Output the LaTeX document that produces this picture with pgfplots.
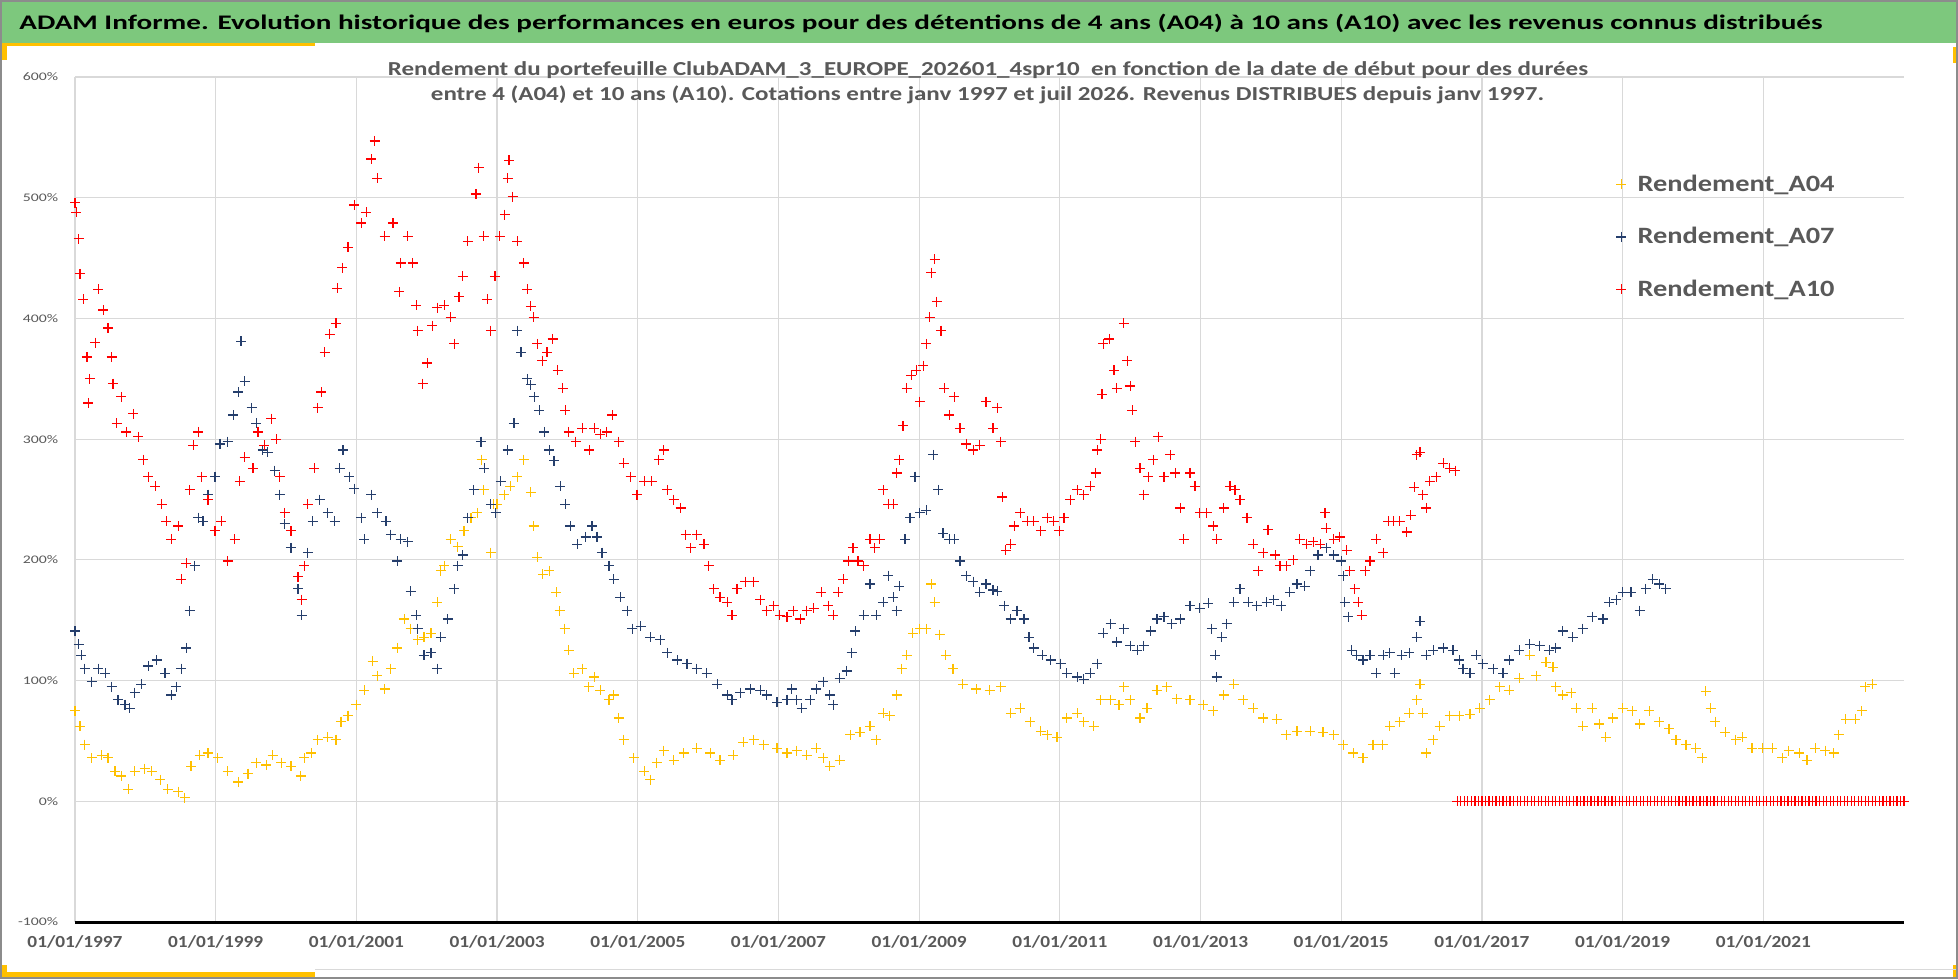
\documentclass[border=0pt]{standalone}
\usepackage{pgfplots}
\pgfplotsset{compat=1.18}
\usepackage{pgfplotstable}
\usepackage{fontspec}
\setmainfont{Carlito}
\definecolor{ygold}{RGB}{255,192,0}
\definecolor{navy}{RGB}{37,62,108}
\definecolor{hgreen}{RGB}{125,200,125}
\definecolor{txtgray}{RGB}{89,89,89}
\definecolor{gridgray}{RGB}{217,217,217}
\definecolor{bordgray}{RGB}{140,140,140}
\newcommand{\xlab}[1]{\resizebox{47.5pt}{\height}{#1}}
\newcommand{\ylab}[1]{\scalebox{1.36}[1]{#1}}
\newcommand{\leglab}[1]{\resizebox{98.5pt}{\height}{#1}}

\pgfplotstableread{
x y
1997.00 75
1997.07 62
1997.14 47
1997.24 36
1997.38 38
1997.47 36
1997.57 25
1997.66 21
1997.76 10
1997.85 25
1997.99 27
1998.09 25
1998.21 18
1998.32 10
1998.47 8
1998.56 3
1998.65 29
1998.77 38
1998.89 40
1999.03 36
1999.17 25
1999.32 16
1999.46 23
1999.58 32
1999.72 30
1999.81 38
1999.93 32
2000.07 29
2000.21 21
2000.26 36
2000.36 40
2000.45 51
2000.59 53
2000.71 51
2000.78 66
2000.88 71
2001.00 80
2001.11 92
2001.23 116
2001.30 104
2001.40 93
2001.49 110
2001.58 127
2001.68 151
2001.77 143
2001.87 134
2001.96 136
2002.06 139
2002.15 165
2002.20 191
2002.25 195
2002.34 217
2002.44 211
2002.53 224
2002.63 235
2002.72 239
2002.78 283
2002.81 258
2002.91 206
2002.95 246
2003.00 246
2003.10 254
2003.19 261
2003.29 269
2003.38 283
2003.48 256
2003.52 228
2003.57 202
2003.65 188
2003.74 191
2003.84 173
2003.89 158
2003.96 143
2004.02 125
2004.09 106
2004.21 110
2004.30 95
2004.38 103
2004.47 92
2004.59 84
2004.66 88
2004.73 69
2004.80 51
2004.94 36
2005.09 25
2005.18 18
2005.27 32
2005.37 42
2005.51 34
2005.65 40
2005.84 44
2006.03 40
2006.17 34
2006.36 38
2006.50 49
2006.65 51
2006.79 47
2006.98 44
2007.12 40
2007.26 42
2007.40 38
2007.54 44
2007.64 36
2007.73 29
2007.87 34
2008.02 55
2008.16 57
2008.30 62
2008.39 51
2008.49 73
2008.58 71
2008.68 88
2008.75 110
2008.82 121
2008.91 139
2009.01 143
2009.10 143
2009.17 180
2009.22 165
2009.29 138
2009.38 121
2009.48 110
2009.62 97
2009.81 93
2010.00 92
2010.16 95
2010.30 73
2010.44 77
2010.58 66
2010.73 58
2010.82 55
2010.96 53
2011.10 69
2011.25 73
2011.34 66
2011.48 62
2011.58 84
2011.72 84
2011.84 80
2011.91 95
2012.00 84
2012.14 69
2012.24 77
2012.38 92
2012.52 95
2012.66 85
2012.85 84
2013.04 80
2013.18 75
2013.33 88
2013.47 97
2013.61 84
2013.75 77
2013.89 69
2014.08 68
2014.22 55
2014.37 58
2014.56 58
2014.74 57
2014.89 55
2015.03 47
2015.17 40
2015.31 36
2015.45 47
2015.59 47
2015.69 62
2015.83 66
2015.97 73
2016.07 84
2016.12 97
2016.16 73
2016.21 40
2016.31 51
2016.40 62
2016.54 71
2016.68 71
2016.83 72
2016.97 77
2017.11 84
2017.25 95
2017.39 92
2017.53 102
2017.68 121
2017.77 104
2017.91 115
2018.01 111
2018.05 95
2018.15 88
2018.27 90
2018.34 77
2018.43 62
2018.57 77
2018.67 64
2018.76 53
2018.86 69
2019.00 77
2019.14 75
2019.24 64
2019.38 75
2019.52 66
2019.66 60
2019.76 51
2019.90 47
2020.04 44
2020.13 36
2020.18 91
2020.25 77
2020.32 66
2020.46 57
2020.61 51
2020.70 53
2020.84 44
2020.99 44
2021.13 44
2021.27 36
2021.36 42
2021.51 40
2021.62 34
2021.74 44
2021.88 42
2022.00 40
2022.07 55
2022.17 68
2022.31 68
2022.40 75
2022.45 95
2022.55 97
}\tblA

\pgfplotstableread{
x y
1997.00 141
1997.05 130
1997.09 121
1997.14 110
1997.24 99
1997.33 110
1997.43 106
1997.52 95
1997.61 84
1997.71 80
1997.78 77
1997.85 90
1997.94 97
1998.04 112
1998.16 117
1998.28 106
1998.37 88
1998.44 95
1998.51 110
1998.58 127
1998.63 158
1998.70 195
1998.75 235
1998.82 232
1998.89 254
1998.99 269
1999.06 296
1999.17 298
1999.25 320
1999.32 339
1999.36 381
1999.41 348
1999.51 326
1999.58 313
1999.67 291
1999.74 289
1999.84 274
1999.91 254
1999.98 230
2000.07 210
2000.17 176
2000.22 154
2000.31 206
2000.38 232
2000.48 250
2000.59 239
2000.69 232
2000.76 276
2000.81 291
2000.90 269
2000.97 259
2001.07 235
2001.11 217
2001.21 254
2001.30 239
2001.42 232
2001.49 221
2001.58 199
2001.63 217
2001.73 215
2001.77 174
2001.85 154
2001.87 143
2001.96 121
2002.06 123
2002.15 110
2002.20 136
2002.30 151
2002.39 176
2002.44 195
2002.51 204
2002.58 235
2002.67 258
2002.77 298
2002.82 276
2002.91 246
2002.98 239
2003.05 265
2003.15 291
2003.24 313
2003.29 390
2003.34 372
2003.43 350
2003.48 345
2003.53 335
2003.60 324
2003.67 306
2003.74 291
2003.81 282
2003.90 261
2003.97 246
2004.04 228
2004.14 213
2004.26 219
2004.35 228
2004.42 219
2004.49 206
2004.59 195
2004.66 184
2004.75 169
2004.85 158
2004.92 143
2005.04 145
2005.18 136
2005.32 134
2005.42 123
2005.56 117
2005.70 114
2005.84 110
2005.98 106
2006.13 97
2006.27 88
2006.34 84
2006.46 90
2006.60 93
2006.74 92
2006.83 88
2006.98 82
2007.12 84
2007.19 93
2007.26 84
2007.33 77
2007.45 84
2007.54 93
2007.64 99
2007.73 88
2007.78 80
2007.87 102
2007.97 108
2008.04 123
2008.09 141
2008.21 154
2008.30 180
2008.39 154
2008.49 165
2008.56 187
2008.63 169
2008.68 158
2008.72 178
2008.80 217
2008.87 235
2008.94 269
2009.01 239
2009.10 241
2009.20 287
2009.27 258
2009.34 222
2009.43 217
2009.50 217
2009.58 199
2009.67 187
2009.77 182
2009.86 173
2009.95 180
2010.05 175
2010.11 174
2010.21 162
2010.30 151
2010.39 158
2010.49 151
2010.56 136
2010.63 127
2010.75 121
2010.87 117
2011.01 114
2011.10 106
2011.25 103
2011.34 101
2011.43 106
2011.53 114
2011.62 139
2011.72 147
2011.81 132
2011.91 143
2012.00 129
2012.10 125
2012.19 129
2012.29 141
2012.38 151
2012.48 153
2012.59 147
2012.71 151
2012.85 162
2012.99 160
2013.11 164
2013.16 143
2013.21 121
2013.23 103
2013.30 136
2013.37 147
2013.47 165
2013.56 176
2013.68 165
2013.80 162
2013.94 165
2014.04 167
2014.15 162
2014.27 173
2014.37 180
2014.48 178
2014.56 191
2014.67 204
2014.79 210
2014.89 204
2015.00 199
2015.03 187
2015.05 165
2015.10 153
2015.15 125
2015.22 121
2015.31 117
2015.41 121
2015.50 106
2015.60 121
2015.69 123
2015.76 106
2015.86 121
2015.97 123
2016.07 136
2016.12 149
2016.21 121
2016.31 125
2016.45 127
2016.59 125
2016.68 117
2016.73 110
2016.83 106
2016.92 121
2017.01 114
2017.16 110
2017.30 106
2017.39 117
2017.53 125
2017.68 130
2017.82 129
2017.96 125
2018.05 127
2018.15 141
2018.29 136
2018.43 143
2018.57 153
2018.72 151
2018.81 165
2018.91 167
2019.00 173
2019.12 173
2019.24 158
2019.33 176
2019.43 184
2019.52 180
2019.61 176
}\tblB

\pgfplotstableread{
x y
1997.00 496
1997.02 488
1997.05 466
1997.07 437
1997.12 416
1997.17 368
1997.19 330
1997.21 350
1997.29 380
1997.33 424
1997.40 407
1997.47 392
1997.52 368
1997.54 346
1997.59 313
1997.66 335
1997.73 306
1997.83 321
1997.90 302
1997.97 283
1998.04 269
1998.14 261
1998.23 246
1998.30 232
1998.37 217
1998.47 228
1998.51 184
1998.58 197
1998.63 258
1998.68 295
1998.75 306
1998.80 269
1998.89 250
1998.99 224
1999.08 232
1999.17 199
1999.27 217
1999.34 265
1999.41 285
1999.53 276
1999.60 306
1999.69 295
1999.79 317
1999.86 300
1999.91 269
1999.98 239
2000.07 224
2000.17 186
2000.22 167
2000.26 195
2000.31 246
2000.40 276
2000.45 326
2000.50 339
2000.55 372
2000.62 387
2000.71 396
2000.73 425
2000.80 442
2000.88 459
2000.97 494
2001.07 479
2001.14 488
2001.21 532
2001.26 547
2001.30 516
2001.40 468
2001.52 479
2001.61 422
2001.63 446
2001.73 468
2001.80 446
2001.85 411
2001.87 390
2001.94 346
2002.01 363
2002.08 394
2002.15 409
2002.25 411
2002.34 401
2002.39 379
2002.46 418
2002.51 435
2002.58 464
2002.70 503
2002.74 525
2002.81 468
2002.86 416
2002.91 390
2002.97 435
2003.04 468
2003.11 486
2003.15 516
2003.17 531
2003.22 501
2003.29 464
2003.38 446
2003.43 424
2003.48 410
2003.52 401
2003.57 379
2003.64 365
2003.71 372
2003.79 383
2003.86 357
2003.93 342
2003.97 324
2004.02 306
2004.12 298
2004.21 309
2004.31 291
2004.38 309
2004.47 304
2004.56 306
2004.64 320
2004.73 298
2004.80 280
2004.90 269
2004.99 254
2005.09 265
2005.20 265
2005.30 283
2005.37 291
2005.42 258
2005.51 250
2005.61 243
2005.68 221
2005.75 210
2005.84 221
2005.94 213
2006.01 195
2006.08 176
2006.17 169
2006.27 165
2006.34 154
2006.41 176
2006.53 182
2006.65 182
2006.74 167
2006.83 158
2006.93 162
2007.02 154
2007.12 153
2007.21 158
2007.31 151
2007.40 158
2007.50 160
2007.61 173
2007.71 162
2007.78 154
2007.85 173
2007.92 184
2007.99 199
2008.06 210
2008.13 199
2008.21 195
2008.30 217
2008.37 210
2008.44 217
2008.49 258
2008.56 246
2008.63 246
2008.68 272
2008.72 283
2008.77 311
2008.82 342
2008.89 353
2008.96 357
2009.01 331
2009.06 361
2009.10 379
2009.15 401
2009.17 438
2009.22 449
2009.25 414
2009.31 390
2009.36 342
2009.43 320
2009.50 335
2009.58 309
2009.67 296
2009.77 291
2009.86 295
2009.95 331
2010.05 309
2010.11 326
2010.16 298
2010.18 252
2010.23 208
2010.30 213
2010.35 228
2010.44 239
2010.54 232
2010.63 232
2010.73 224
2010.82 235
2010.91 232
2010.99 224
2011.06 235
2011.15 250
2011.25 258
2011.34 254
2011.43 261
2011.51 272
2011.53 291
2011.58 300
2011.60 337
2011.62 379
2011.70 383
2011.77 357
2011.81 342
2011.91 396
2011.96 365
2012.00 344
2012.03 324
2012.07 298
2012.14 276
2012.19 254
2012.26 269
2012.33 283
2012.40 302
2012.48 269
2012.57 287
2012.64 272
2012.71 243
2012.76 217
2012.85 272
2012.92 261
2012.99 239
2013.09 239
2013.18 228
2013.23 217
2013.33 243
2013.42 261
2013.49 258
2013.56 250
2013.66 235
2013.75 213
2013.82 191
2013.89 206
2013.96 225
2014.06 204
2014.13 195
2014.22 195
2014.32 200
2014.41 217
2014.51 213
2014.60 215
2014.70 213
2014.77 239
2014.79 226
2014.89 217
2014.98 219
2015.08 208
2015.12 191
2015.19 176
2015.24 165
2015.29 154
2015.34 191
2015.41 199
2015.50 217
2015.60 206
2015.67 232
2015.74 232
2015.83 232
2015.93 223
2015.99 237
2016.04 260
2016.07 287
2016.12 289
2016.16 254
2016.21 243
2016.26 265
2016.35 269
2016.45 280
2016.54 276
2016.62 274
2016.65 0
2016.70 0
2016.75 0
2016.80 0
2016.85 0
2016.90 0
2016.95 0
2017.00 0
2017.05 0
2017.10 0
2017.15 0
2017.20 0
2017.25 0
2017.30 0
2017.35 0
2017.40 0
2017.45 0
2017.50 0
2017.55 0
2017.60 0
2017.65 0
2017.70 0
2017.75 0
2017.80 0
2017.85 0
2017.90 0
2017.95 0
2018.00 0
2018.05 0
2018.10 0
2018.15 0
2018.20 0
2018.25 0
2018.30 0
2018.35 0
2018.40 0
2018.45 0
2018.50 0
2018.55 0
2018.60 0
2018.65 0
2018.70 0
2018.75 0
2018.80 0
2018.85 0
2018.90 0
2018.95 0
2019.00 0
2019.05 0
2019.10 0
2019.15 0
2019.20 0
2019.25 0
2019.30 0
2019.35 0
2019.40 0
2019.45 0
2019.50 0
2019.55 0
2019.60 0
2019.65 0
2019.70 0
2019.75 0
2019.80 0
2019.85 0
2019.90 0
2019.95 0
2020.00 0
2020.05 0
2020.10 0
2020.15 0
2020.20 0
2020.25 0
2020.30 0
2020.35 0
2020.40 0
2020.45 0
2020.50 0
2020.55 0
2020.60 0
2020.65 0
2020.70 0
2020.75 0
2020.80 0
2020.85 0
2020.90 0
2020.95 0
2021.00 0
2021.05 0
2021.10 0
2021.15 0
2021.20 0
2021.25 0
2021.30 0
2021.35 0
2021.40 0
2021.45 0
2021.50 0
2021.55 0
2021.60 0
2021.65 0
2021.70 0
2021.75 0
2021.80 0
2021.85 0
2021.90 0
2021.95 0
2022.00 0
2022.05 0
2022.10 0
2022.15 0
2022.20 0
2022.25 0
2022.30 0
2022.35 0
2022.40 0
2022.45 0
2022.50 0
2022.55 0
2022.60 0
2022.65 0
2022.70 0
2022.75 0
2022.80 0
2022.85 0
2022.90 0
2022.95 0
2023.00 0
}\tblC

\begin{document}
\begin{tikzpicture}
\useasboundingbox (0,0) rectangle (979pt,489.5pt);
\fill[white] (0,0) rectangle (979pt,489.5pt);
% header
\fill[hgreen] (0,468pt) rectangle (979pt,489.5pt);
\node[anchor=base west, inner sep=0pt] at (9.5pt,474.5pt)
  {\resizebox{901.5pt}{\height}{\fontsize{10.35}{12}\selectfont\bfseries ADAM Informe. Evolution historique des performances en euros pour des détentions de 4 ans (A04) à 10 ans (A10) avec les revenus connus distribués}};
% yellow accents
\fill[ygold] (0,466.5pt) rectangle (157.5pt,468pt);
\fill[ygold] (0.8pt,459.5pt) rectangle (3.5pt,468pt);
\fill[ygold] (976.5pt,458pt) rectangle (979pt,466pt);
\fill[ygold] (0,1pt) rectangle (157.5pt,3.5pt);
\fill[ygold] (0.8pt,1pt) rectangle (3.5pt,7pt);
\fill[ygold] (976.5pt,1pt) rectangle (979pt,7pt);
\draw[gridgray, line width=0.5pt] (157.5pt,4.5pt) -- (979pt,4.5pt);

\begin{axis}[
  at={(37.5pt,28.5pt)}, anchor=south west,
  width=914.5pt, height=422.5pt, scale only axis,
  xmin=1997, xmax=2023, ymin=-100, ymax=600,
  clip=false,
  axis line style={draw=none},
  grid=major,
  major grid style={gridgray, line width=0.6pt},
  tick style={draw=none},
  major tick length=0pt,
  xtick={1997,1999,2001,2003,2005,2007,2009,2011,2013,2015,2017,2019,2021},
  xticklabels={\xlab{01/01/1997},\xlab{01/01/1999},\xlab{01/01/2001},\xlab{01/01/2003},\xlab{01/01/2005},\xlab{01/01/2007},\xlab{01/01/2009},\xlab{01/01/2011},\xlab{01/01/2013},\xlab{01/01/2015},\xlab{01/01/2017},\xlab{01/01/2019},\xlab{01/01/2021}},
  xticklabel style={font=\fontsize{8.45}{10}\selectfont\bfseries, text=txtgray, anchor=base, inner sep=0pt, yshift=-12.5pt},
  ytick={-100,0,100,200,300,400,500,600},
  yticklabels={\ylab{-100\%},\ylab{0\%},\ylab{100\%},\ylab{200\%},\ylab{300\%},\ylab{400\%},\ylab{500\%},\ylab{600\%}},
  yticklabel style={font=\fontsize{5.8}{7}\selectfont, text=txtgray, anchor=east, inner sep=0pt, xshift=-8.25pt},
  legend style={at={(0.8425,0.8107)}, anchor=west, draw=none, fill=none,
    font=\fontsize{11.7}{14}\selectfont\bfseries, text=txtgray,
    inner sep=0pt, row sep=13.25pt, column sep=5.6pt,
    nodes={inner sep=0pt, text height=10pt, text depth=3pt}},
  legend cell align=left,
  legend image code/.code={\draw[#1] plot coordinates {(0pt,0pt)};},
]
\addplot[only marks, mark=+, mark size=2.5pt, color=ygold, mark options={line width=0.6pt}] table[x=x,y=y] {\tblA};
\addplot[only marks, mark=+, mark size=2.5pt, color=navy, mark options={line width=0.6pt}] table[x=x,y=y] {\tblB};
\addplot[only marks, mark=+, mark size=2.5pt, color=red, mark options={line width=0.6pt}] table[x=x,y=y] {\tblC};
\legend{\leglab{Rendement\_A04},\leglab{Rendement\_A07},\leglab{Rendement\_A10}}
\draw[black, line width=1.5pt] (axis cs:1997,-100) -- (axis cs:2023,-100);
\end{axis}
% subtitle (on top of the grid)
\node[anchor=base, inner sep=0pt, text=txtgray] at (494pt,451.5pt)
  {\resizebox{600pt}{\height}{\fontsize{9.9}{12}\selectfont\bfseries Rendement du portefeuille ClubADAM\_3\_EUROPE\_202601\_4spr10 \ en fonction de la date de début pour des durées}};
\node[anchor=base, inner sep=0pt, text=txtgray] at (493.75pt,439.15pt)
  {\resizebox{556.5pt}{\height}{\fontsize{9.9}{12}\selectfont\bfseries entre 4 (A04) et 10 ans (A10). Cotations entre janv 1997 et juil 2026. Revenus DISTRIBUES depuis janv 1997.}};
\draw[bordgray, line width=0.8pt] (0.4pt,0.4pt) rectangle (978.6pt,489.1pt);
\end{tikzpicture}
\end{document}
